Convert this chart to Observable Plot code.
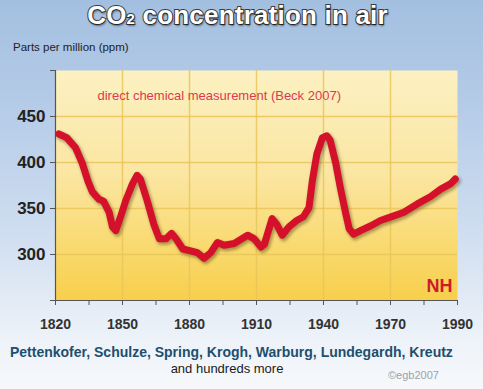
<!DOCTYPE html>
<html>
<head>
<meta charset="utf-8">
<script src="https://cdn.jsdelivr.net/npm/d3@7"></script>
<script src="https://cdn.jsdelivr.net/npm/@observablehq/plot@0.6"></script>
<style>
  html, body { margin: 0; padding: 0; }
  #wrap {
    position: relative; width: 483px; height: 389px; overflow: hidden;
    background: linear-gradient(to bottom, #a3bfe0 0%, #b7cde8 30%, #cfdef0 60%, #eef3f9 88%, #f6f8fb 100%);
    font-family: "Liberation Sans", Arial, sans-serif;
  }
  #header { position: relative; height: 56px; }
  #title {
    position: absolute; left: 0; top: 2px; width: 475px; text-align: center;
    font-size: 26px; line-height: 26px; font-weight: bold; color: #ffffff;
    -webkit-text-stroke: 2px #3c3c3c; paint-order: stroke fill;
    text-shadow: 1px 2px 2px rgba(0,0,0,0.45);
    letter-spacing: 0.2px;
  }
  #title .sub { font-size: 15px; vertical-align: 0px; }
  #ylab { position: absolute; left: 13px; top: 40px; font-size: 11.5px; line-height: 14px; color: #222; }
  #chart { height: 279px; }
  #footer { position: relative; height: 54px; }
  #names { position: absolute; left: 10px; top: 8px; font-size: 14px; line-height: 18px; font-weight: bold; color: #1d4f6e; white-space: nowrap; }
  #more { position: absolute; left: 0; width: 454px; text-align: center; top: 26px; font-size: 13px; line-height: 16px; color: #1a1a1a; }
  #copy { position: absolute; left: 388px; top: 33px; font-size: 11px; line-height: 14px; color: #9aa3ad; }
</style>
</head>
<body>
<svg width="0" height="0" style="position:absolute">
  <defs>
    <linearGradient id="plotBg" x1="0" y1="0" x2="0" y2="1">
      <stop offset="0%" stop-color="#fcf1c2"/>
      <stop offset="45%" stop-color="#fbe6a2"/>
      <stop offset="80%" stop-color="#f9d86a"/>
      <stop offset="100%" stop-color="#f8cf4c"/>
    </linearGradient>
  </defs>
</svg>
<div id="wrap">
  <div id="header">
    <div id="title">CO<span class="sub">2</span> concentration in air</div>
    <div id="ylab">Parts per million (ppm)</div>
  </div>
  <div id="chart"></div>
  <div id="footer">
    <div id="names">Pettenkofer, Schulze, Spring, Krogh, Warburg, Lundegardh, Kreutz</div>
    <div id="more">and hundreds more</div>
    <div id="copy">©egb2007</div>
  </div>
</div>
<script>
// ---- data ----
const years = [1821.5, 1825, 1829, 1832, 1834.5, 1836.5, 1839.5, 1841.5, 1844, 1845.5, 1847, 1849, 1851.5, 1854.5, 1856.5, 1858, 1861, 1864, 1866.5, 1869.5, 1872, 1874, 1877, 1880.5, 1883.5, 1886.5, 1889.5, 1892.5, 1895.5, 1900, 1906, 1909, 1912, 1913.5, 1917, 1919, 1921.5, 1924.5, 1928, 1931, 1933.5, 1935, 1937, 1939.5, 1941.5, 1943, 1945.5, 1947.5, 1950, 1951.5, 1953.5, 1956.5, 1961, 1965.5, 1971.5, 1976, 1982, 1988, 1992.5, 1997, 1999];
const ppm = [431, 427, 416, 399, 380, 368, 360, 358, 346, 330, 326, 340, 359, 377, 386, 382, 359, 333, 317, 317, 323, 317, 306, 304, 302, 296, 302, 313, 310, 312, 321, 317, 308, 311, 339, 333, 321, 330, 337, 341, 351, 380, 409, 427, 429, 424, 399, 373, 344, 328, 322, 326, 331, 337, 342, 346, 355, 363, 371, 377, 382];

const xTicks = [1820, 1835, 1850, 1865, 1880, 1895, 1910, 1925, 1940, 1955, 1970, 1985, 2000];
const xTickLabels = ["1820", "", "1850", "", "1880", "", "1910", "", "1940", "", "1970", "", "1990"];
const xGrid = [1850, 1880, 1910, 1940, 1970];

const yTicks = [250, 300, 350, 400, 450, 500];
const yTickLabels = ["", "300", "350", "400", "450", ""];
const yGrid = [300, 350, 400, 450];

const noteText = ["direct chemical measurement (Beck 2007)"];
const noteYear = [1838.8];
const notePpm = [473];

const regionText = ["NH"];
const regionYear = [1997.8];
const regionPpm = [265];

const data = years.map((year, i) => ({year, ppm: ppm[i]}));
const notes = noteText.map((text, i) => ({text, year: noteYear[i], ppm: notePpm[i]}));
const regions = regionText.map((text, i) => ({text, year: regionYear[i], ppm: regionPpm[i]}));

const chart = Plot.plot({
  width: 483,
  height: 279,
  marginTop: 14,
  marginBottom: 35,
  marginLeft: 55,
  marginRight: 26,
  style: {background: "transparent", fontFamily: "'Liberation Sans', Arial, sans-serif", color: "#333", overflow: "visible"},
  x: {domain: [1820, 2000]},
  y: {domain: [250, 500]},
  marks: [
    Plot.frame({fill: "url(#plotBg)", stroke: null}),
    Plot.gridX(xGrid, {stroke: "#e9c55a", strokeOpacity: 0.85, strokeWidth: 1.5}),
    Plot.gridY(yGrid, {stroke: "#e9c55a", strokeOpacity: 0.85, strokeWidth: 1.5}),
    Plot.ruleX([1820], {stroke: "#555", strokeWidth: 1.2}),
    Plot.ruleY([250], {stroke: "#555", strokeWidth: 1.2}),
    Plot.axisX({
      ticks: xTicks, tickSize: 5, tickPadding: 14,
      tickFormat: d => xTickLabels[xTicks.indexOf(d)] ?? "",
      fontSize: 14, fontWeight: "bold", stroke: "#555", fill: "#333", label: null
    }),
    Plot.axisY({
      ticks: yTicks, tickSize: 5, tickPadding: 5,
      tickFormat: d => yTickLabels[yTicks.indexOf(d)] ?? "",
      fontSize: 17, fontWeight: "bold", stroke: "#555", fill: "#222", label: null
    }),
    Plot.line(data, {x: "year", y: "ppm", stroke: "#4d3f12", strokeOpacity: 0.45, strokeWidth: 8,
      dx: 1.5, dy: 2, strokeLinejoin: "round", strokeLinecap: "round", imageFilter: "blur(1.5px)"}),
    Plot.line(data, {x: "year", y: "ppm", stroke: "#d5102b", strokeWidth: 7,
      strokeLinejoin: "round", strokeLinecap: "round"}),
    Plot.text(notes, {x: "year", y: "ppm", text: "text", textAnchor: "start", fontSize: 13, fill: "#dc3a50"}),
    Plot.text(regions, {x: "year", y: "ppm", text: "text", textAnchor: "end", fontSize: 18, fontWeight: "bold", fill: "#cf1a2c"})
  ]
});
document.getElementById("chart").appendChild(chart);
</script>
</body>
</html>
